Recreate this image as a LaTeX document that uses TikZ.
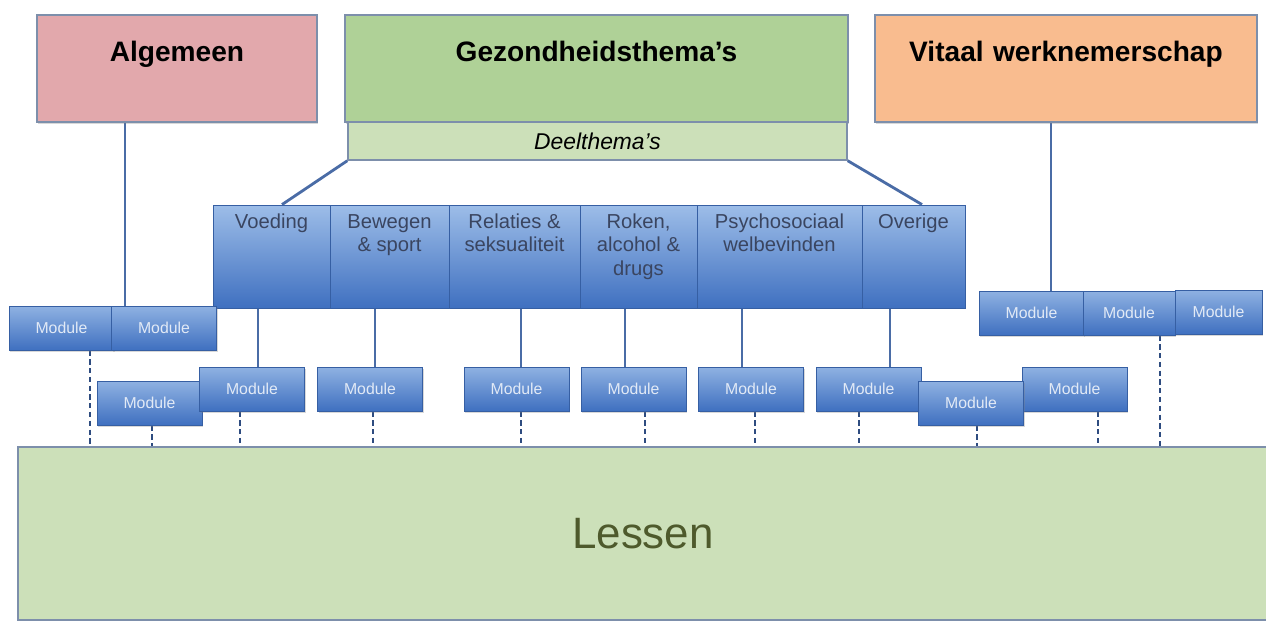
\documentclass[tikz,border=0pt]{standalone}
\usepackage{fontspec}
\setmainfont{Liberation Sans}
\usetikzlibrary{positioning, backgrounds, shadows}
\definecolor{cpink}{HTML}{E2A8AC}
\definecolor{cgreen}{HTML}{AFD197}
\definecolor{clight}{HTML}{CCE0B9}
\definecolor{corange}{HTML}{F9BC8F}
\definecolor{cedge}{HTML}{7D8FAB}
\definecolor{ctop}{HTML}{9DBDE8}
\definecolor{cbot}{HTML}{3F70C0}
\definecolor{cline}{HTML}{4A6CA6}
\definecolor{cdash}{HTML}{2E4C80}
\definecolor{cink}{HTML}{4E5A2C}
\definecolor{ctext}{HTML}{3A4560}
\newcommand\celltext[1]{\begin{tabular}[t]{@{}c@{}}#1\end{tabular}}
\tikzset{
  every picture/.style={x=0.02cm, y=-0.02cm},
  head/.style={draw=cedge, fill=#1, line width=0.8pt, inner sep=0pt, align=center,
    text height=0.92cm, text depth=1.22cm, font=\bfseries\fontsize{16}{19}\selectfont,
    drop shadow={shadow xshift=0.6pt, shadow yshift=-1pt, opacity=0.3}},
  sub/.style={draw=cedge, fill=clight, line width=0.8pt, minimum width=9.98cm, minimum height=0.76cm,
    inner sep=0pt, font=\itshape\fontsize{13}{15}\selectfont},
  theme/.style={draw=cbot!85!black, top color=ctop, bottom color=cbot, line width=0.5pt, inner sep=0pt,
    text height=0.46cm, text depth=1.6cm, text=ctext, font=\fontsize{11.5}{13.6}\selectfont},
  module/.style={draw=cbot!85!black, top color=ctop!85!cbot, bottom color=cbot, line width=0.5pt,
    minimum width=2.1cm, minimum height=0.88cm, inner sep=0pt, text=white!85!cbot,
    font=\fontsize{9}{11}\selectfont,
    drop shadow={shadow xshift=0.6pt, shadow yshift=-1pt, opacity=0.3}},
  link/.style={draw=cline, line width=1.6pt},
  dashlink/.style={draw=cdash, line width=1.6pt, dash pattern=on 3pt off 2pt},
}
\begin{document}
\begin{tikzpicture}
  \useasboundingbox (0,0) rectangle (1266,623);
  % top categories
  \node[head=cpink, text width=5.6cm] (alg) at (177,68.5) {Algemeen};
  \node[head=cgreen, text width=10.06cm] (gez) at (596.5,68.5) {Gezondheidsthema's};
  \node[head=corange, text width=7.64cm] (vit) at (1066,68.5) {Vitaal werknemerschap};
  \node[sub] (dee) at (597.5,141) {Deelthema's};
  % health themes
  \foreach \a/\b/\t [count=\i] in {213/330/Voeding, 330/449/{Bewegen\\\& sport},
      449/580/{Relaties \&\\seksualiteit}, 580/697/{Roken,\\alcohol \&\\drugs},
      697/862/{Psychosociaal\\welbevinden}, 862/965/Overige}
    \node[theme, minimum width={(\b-\a)*0.02cm}] (t\i) at ({(\a+\b)/2},256.5) {\celltext{\t}};
  % modules
  \node[module] (a1) at (61.5,328) {Module};
  \node[module] (a2) at (164,328) {Module};
  \node[module] (b1) at (149.5,403) {Module};
  \node[module] (b2) at (252,389) {Module};
  \node[module] (b3) at (370,389) {Module};
  \node[module] (b4) at (516.5,389) {Module};
  \node[module] (b5) at (633.5,389) {Module};
  \node[module] (b6) at (751,389) {Module};
  \node[module] (b7) at (868.5,389) {Module};
  \node[module] (b9) at (1074.5,389) {Module};
  \node[module] (b8) at (971,403) {Module};
  \node[module] (c1) at (1031.5,313) {Module};
  \node[module, minimum width=1.84cm] (c2) at (1129,313) {Module};
  \node[module, minimum width=1.74cm] (c3) at (1218.5,312) {Module};
  % lessons
  \node[draw=cedge, fill=clight, line width=0.8pt, minimum width=25cm, minimum height=3.46cm,
    text=cink, font=\fontsize{25}{30}\selectfont] (les) at (643,533.5) {Lessen};
  % connectors
  \begin{scope}[on background layer]
    \fill[white] (0,0) rectangle (1266,623);
    \draw[link] (alg.south -| 125,0) -- (a2.north -| 125,0);
    \draw[link] (vit.south -| 1051,0) -- (c1.north -| 1051,0);
    \draw[link] (dee.south west) -- (t1.north -| 282,0);
    \draw[link] (dee.south east) -- (t6.north -| 922,0);
    \foreach \t/\m/\x in {t1/b2/258, t2/b3/375, t3/b4/521, t4/b5/625, t5/b6/742, t6/b7/890}
      \draw[link] (\t.south -| \x,0) -- (\m.north -| \x,0);
    \foreach \m/\x in {a1/90, b1/152, b2/240, b3/373, b4/521, b5/645, b6/755, b7/859, b8/977, b9/1098, c2/1160}
      \draw[dashlink] (\m.south -| \x,0) -- (les.north -| \x,0);
  \end{scope}
\end{tikzpicture}
\end{document}
